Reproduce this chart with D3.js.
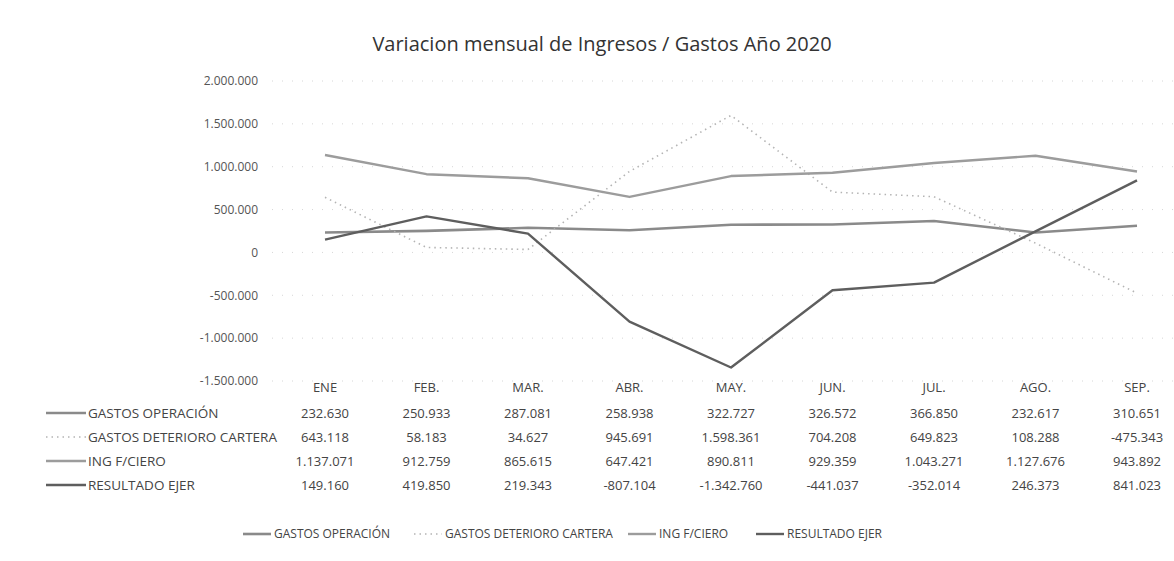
<!DOCTYPE html>
<html>
<head>
<meta charset="utf-8">
<script src="https://cdn.jsdelivr.net/npm/d3@7"></script>
<style>
  body { margin: 0; background: #fff; }
  svg text { font-family: "Liberation Sans Narrow", "Open Sans", sans-serif; fill: #444; }
</style>
</head>
<body>
<div id="chart"></div>
<script>
// data
const months = ["ENE", "FEB.", "MAR.", "ABR.", "MAY.", "JUN.", "JUL.", "AGO.", "SEP."]
const gastosOperacion = [232630, 250933, 287081, 258938, 322727, 326572, 366850, 232617, 310651]
const gastosDeterioro = [643118, 58183, 34627, 945691, 1598361, 704208, 649823, 108288, -475343]
const ingFCiero = [1137071, 912759, 865615, 647421, 890811, 929359, 1043271, 1127676, 943892]
const resultadoEjer = [149160, 419850, 219343, -807104, -1342760, -441037, -352014, 246373, 841023]
const yTicks = [2000000, 1500000, 1000000, 500000, 0, -500000, -1000000, -1500000]
const title = "Variacion mensual de Ingresos / Gastos Año 2020"

const series = [
  {name: "GASTOS OPERACIÓN", values: gastosOperacion, color: "#8a8a8a", width: 2.6, dash: null},
  {name: "GASTOS DETERIORO CARTERA", values: gastosDeterioro, color: "#b4b4b4", width: 1.6, dash: "1.5,4"},
  {name: "ING F/CIERO", values: ingFCiero, color: "#9c9c9c", width: 2.4, dash: null},
  {name: "RESULTADO EJER", values: resultadoEjer, color: "#5e5e5e", width: 2.4, dash: null}
]

const width = 1174, height = 561
const locale = d3.formatLocale({decimal: ",", thousands: ".", grouping: [3], currency: ["", ""], minus: "-"})
const fmt = locale.format(",d")

const svg = d3.select("#chart").append("svg")
    .attr("width", width)
    .attr("height", height)

svg.append("text")
    .attr("x", 602)
    .attr("y", 51)
    .attr("text-anchor", "middle")
    .style("font-family", "'Open Sans', sans-serif")
    .style("font-size", "20px")
    .style("fill", "#333")
    .text(title)

const x = d3.scalePoint().domain(months).range([325, 1137])
const y = d3.scaleLinear().domain([-1500000, 2000000]).range([381, 81])

// faint gridlines, the scan barely shows them
svg.append("g")
  .selectAll("line").data(yTicks).enter()
  .append("line")
    .attr("x1", 272).attr("x2", 1188)
    .attr("y1", d => y(d)).attr("y2", d => y(d))
    .style("stroke", "#d6d6d6")
    .style("stroke-width", 1)
    .style("stroke-dasharray", "1,9")

const yAxis = svg.append("g")
    .attr("transform", "translate(258,0)")
    .call(d3.axisLeft(y).tickValues(yTicks).tickFormat(fmt).tickSize(0).tickPadding(0))
yAxis.select(".domain").remove()
yAxis.selectAll("text").style("font-size", "12px").style("fill", "#555")

const line = d3.line()
    .x((d, i) => x(months[i]))
    .y(d => y(d))

svg.append("g").attr("class", "lines")
  .selectAll("path").data(series).enter()
  .append("path")
    .attr("d", d => line(d.values))
    .style("fill", "none")
    .style("stroke", d => d.color)
    .style("stroke-width", d => d.width)
    .style("stroke-dasharray", d => d.dash)
    .style("stroke-linejoin", "round")

// data table
const table = svg.append("g").attr("class", "table")
table.selectAll("text.month").data(months).enter()
  .append("text")
    .attr("class", "month")
    .attr("x", d => x(d))
    .attr("y", 392)
    .attr("text-anchor", "middle")
    .style("font-size", "13px")
    .text(d => d)

const rowY = [418, 442, 466, 490]
series.forEach((s, r) => {
  const row = table.append("g")
  row.append("line")
      .attr("x1", 46).attr("x2", 86)
      .attr("y1", rowY[r] - 5).attr("y2", rowY[r] - 5)
      .style("stroke", s.color)
      .style("stroke-width", s.width)
      .style("stroke-dasharray", s.dash)
  row.append("text")
      .attr("x", 88)
      .attr("y", rowY[r])
      .style("font-size", "13.5px")
      .text(s.name)
  row.selectAll("text.val").data(s.values).enter()
    .append("text")
      .attr("class", "val")
      .attr("x", (d, i) => x(months[i]))
      .attr("y", rowY[r])
      .attr("text-anchor", "middle")
      .style("font-size", "13px")
      .text(d => fmt(d))
})

// legend
const legendX = [243, 414, 628, 756]
const legend = svg.append("g").attr("class", "legend")
series.forEach((s, i) => {
  legend.append("line")
      .attr("x1", legendX[i]).attr("x2", legendX[i] + 28)
      .attr("y1", 534).attr("y2", 534)
      .style("stroke", s.color)
      .style("stroke-width", s.width)
      .style("stroke-dasharray", s.dash)
  legend.append("text")
      .attr("x", legendX[i] + 31)
      .attr("y", 538)
      .style("font-size", "12px")
      .text(s.name)
})
</script>
</body>
</html>
